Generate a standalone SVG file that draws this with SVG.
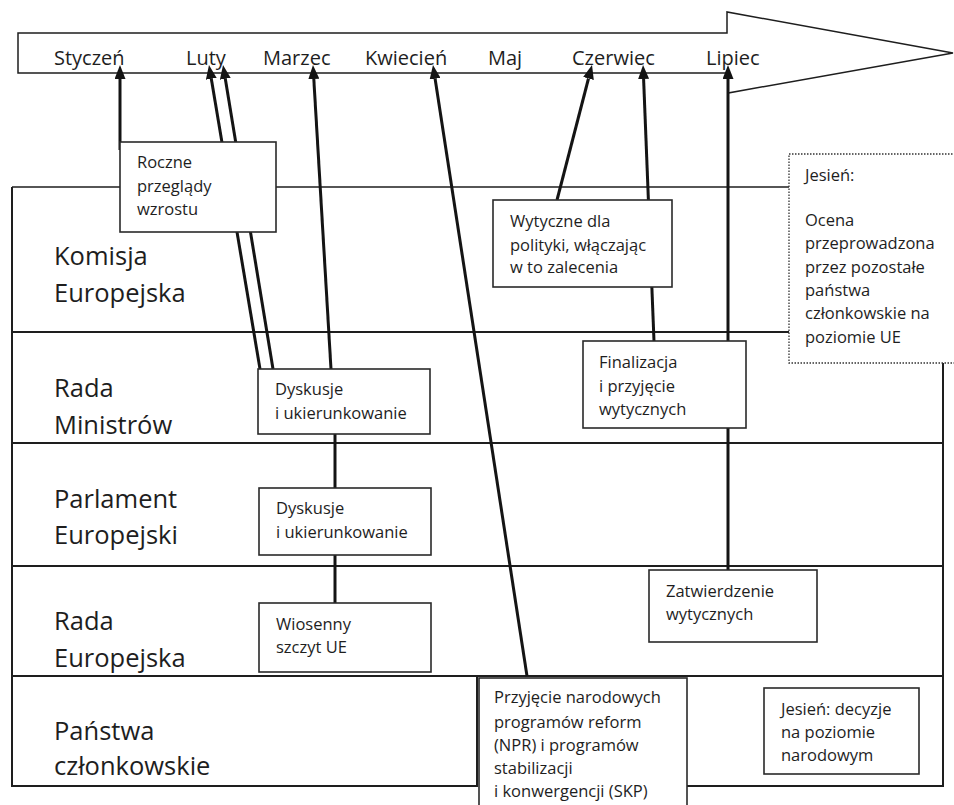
<svg xmlns="http://www.w3.org/2000/svg" width="954" height="805" viewBox="0 0 954 805">
<style>
text{font-family:"Open Sans","Liberation Sans",sans-serif;fill:#1e1e1e}
.month{font-size:20px}
.lane{font-size:25.5px}
.bt{font-size:16.5px}
.box{fill:#fff;stroke:#2a2a2a;stroke-width:1.6}
.ln{fill:none;stroke:#1e1e1e;stroke-width:2}
.thin{fill:none;stroke:#1e1e1e;stroke-width:1.3}
.con{fill:none;stroke:#141414;stroke-width:3}
.dot{fill:#fff;stroke:#333;stroke-width:1.3;stroke-dasharray:1.5 1.5}
</style>
<defs>
<marker id="ah" viewBox="0 0 14 11" refX="0" refY="5.5" markerWidth="14" markerHeight="11" markerUnits="userSpaceOnUse" orient="auto">
<path d="M0,0 L14,5.5 L0,11 Z" fill="#141414"/>
</marker>
</defs>

<g id="lanes">
<path class="thin" d="M12,187 H789"/>
<path class="ln" d="M12,187 V786 H477 V676"/>
<path class="ln" d="M12,332 H789"/>
<path class="ln" d="M12,443 H943"/>
<path class="ln" d="M12,566 H943"/>
<path class="ln" d="M12,676 H943"/>
<path class="ln" d="M943,363 V786 H687"/>
<text class="lane" x="54" y="265">Komisja</text>
<text class="lane" x="54" y="302">Europejska</text>
<text class="lane" x="54" y="397">Rada</text>
<text class="lane" x="54" y="434">Ministrów</text>
<text class="lane" x="54" y="508">Parlament</text>
<text class="lane" x="54" y="544">Europejski</text>
<text class="lane" x="54" y="630">Rada</text>
<text class="lane" x="54" y="667">Europejska</text>
<text class="lane" x="54" y="740">Państwa</text>
<text class="lane" x="54" y="775">członkowskie</text>
</g>

<g id="timeline">
<path fill="#fff" stroke="#1e1e1e" stroke-width="1.5" d="M18,33 H727 V12 L953,53 L728,93 V73 H18 Z"/>
<text class="month" x="54" y="65">Styczeń</text>
<text class="month" x="186" y="65">Luty</text>
<text class="month" x="263" y="65">Marzec</text>
<text class="month" x="365" y="65">Kwiecień</text>
<text class="month" x="488" y="65">Maj</text>
<text class="month" x="572" y="65">Czerwiec</text>
<text class="month" x="706" y="65">Lipiec</text>
</g>

<g id="connectors">
<line class="con" x1="120" y1="150" x2="120" y2="79" marker-end="url(#ah)"/>
<line class="con" x1="260" y1="369" x2="211.3" y2="78.8" marker-end="url(#ah)"/>
<line class="con" x1="273" y1="369" x2="225.3" y2="78.8" marker-end="url(#ah)"/>
<line class="con" x1="331" y1="369" x2="313.8" y2="79" marker-end="url(#ah)"/>
<line class="con" x1="527" y1="676" x2="435.1" y2="78.8" marker-end="url(#ah)"/>
<line class="con" x1="557" y1="200" x2="588.5" y2="78.5" marker-end="url(#ah)"/>
<line class="con" x1="654" y1="341" x2="643.6" y2="79" marker-end="url(#ah)"/>
<line class="con" x1="728" y1="570" x2="728" y2="79" marker-end="url(#ah)"/>
<line class="con" x1="335" y1="433" x2="335" y2="488"/>
<line class="con" x1="335" y1="555" x2="335" y2="603"/>
</g>

<g id="roczne">
<rect class="box" x="120" y="142" width="156" height="90"/>
<text class="bt" x="137" y="168">Roczne</text>
<text class="bt" x="137" y="192">przeglądy</text>
<text class="bt" x="137" y="215">wzrostu</text>
</g>

<g id="dyskusje-rada">
<rect class="box" x="258" y="369" width="172" height="65"/>
<text class="bt" x="275" y="395">Dyskusje</text>
<text class="bt" x="275" y="419">i ukierunkowanie</text>
</g>

<g id="dyskusje-parlament">
<rect class="box" x="259" y="488" width="172" height="67"/>
<text class="bt" x="276" y="514">Dyskusje</text>
<text class="bt" x="276" y="538">i ukierunkowanie</text>
</g>

<g id="wiosenny">
<rect class="box" x="259" y="603" width="172" height="69"/>
<text class="bt" x="276" y="630">Wiosenny</text>
<text class="bt" x="276" y="653">szczyt UE</text>
</g>

<g id="wytyczne">
<rect class="box" x="493" y="200" width="179" height="87"/>
<text class="bt" x="510" y="227">Wytyczne dla</text>
<text class="bt" x="510" y="251">polityki, włączając</text>
<text class="bt" x="510" y="273">w to zalecenia</text>
</g>

<g id="finalizacja">
<rect class="box" x="583" y="341" width="163" height="87"/>
<text class="bt" x="599" y="368">Finalizacja</text>
<text class="bt" x="599" y="392">i przyjęcie</text>
<text class="bt" x="599" y="415">wytycznych</text>
</g>

<g id="jesien-ue">
<rect class="dot" x="789" y="154" width="175" height="209"/>
<text class="bt" x="805" y="181">Jesień:</text>
<text class="bt" x="805" y="226">Ocena</text>
<text class="bt" x="805" y="249">przeprowadzona</text>
<text class="bt" x="805" y="273">przez pozostałe</text>
<text class="bt" x="805" y="296">państwa</text>
<text class="bt" x="805" y="319">członkowskie na</text>
<text class="bt" x="805" y="343">poziomie UE</text>
</g>

<g id="zatwierdzenie">
<rect class="box" x="649" y="570" width="168" height="72"/>
<text class="bt" x="666" y="597">Zatwierdzenie</text>
<text class="bt" x="666" y="620">wytycznych</text>
</g>

<g id="przyjecie">
<rect class="box" x="479" y="678" width="208" height="140"/>
<text class="bt" x="494" y="703">Przyjęcie narodowych</text>
<text class="bt" x="494" y="728">programów reform</text>
<text class="bt" x="494" y="751">(NPR) i programów</text>
<text class="bt" x="494" y="774">stabilizacji</text>
<text class="bt" x="494" y="797">i konwergencji (SKP)</text>
</g>

<g id="jesien-narod">
<rect class="box" x="764" y="688" width="155" height="86"/>
<text class="bt" x="781" y="715">Jesień: decyzje</text>
<text class="bt" x="781" y="738">na poziomie</text>
<text class="bt" x="781" y="761">narodowym</text>
</g>
</svg>
